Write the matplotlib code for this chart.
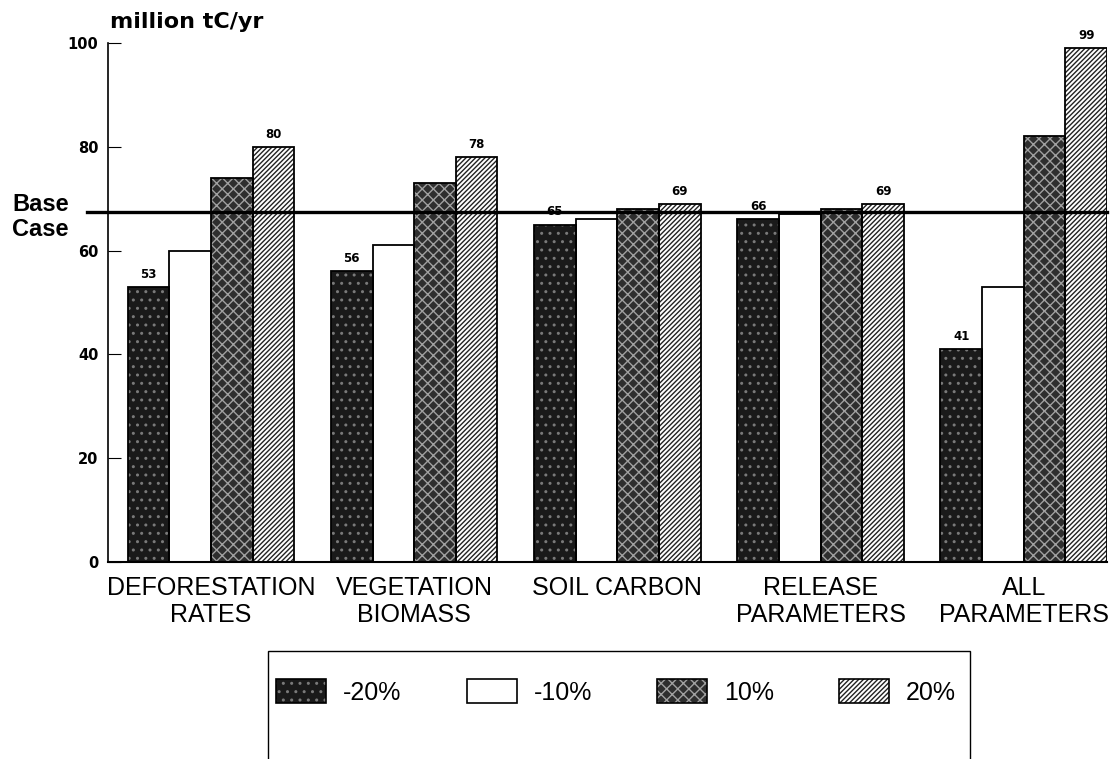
import matplotlib.pyplot as plt
from matplotlib.patches import Patch, Rectangle
import numpy as np

categories = ["DEFORESTATION\nRATES", "VEGETATION\nBIOMASS", "SOIL CARBON",
              "RELEASE\nPARAMETERS", "ALL\nPARAMETERS"]
series = ["-20%", "-10%", "10%", "20%"]
minus20 = [53, 56, 65, 66, 41]
minus10 = [60, 61, 66, 67, 53]
plus10 = [74, 73, 68, 68, 82]
plus20 = [80, 78, 69, 69, 99]
base_case = 67.4
yticks = [0, 20, 40, 60, 80, 100]

values = [minus20, minus10, plus10, plus20]
# fill, hatch, hatch colour for each series
styles = [("#1a1a1a", "..", "#7a7a7a"),
          ("white", "", "white"),
          ("#2e2e2e", "xxx", "#a0a0a0"),
          ("white", "///////", "#222222")]
show_label = [True, False, False, True]

fig = plt.figure(figsize=(11.11, 7.59), dpi=100)
ax = fig.add_axes([108 / 1111, 197 / 759, 999 / 1111, 519 / 759])

x = np.arange(len(categories))
w = 0.205
handles = []
for i, vals in enumerate(values):
    pos = x + (i - 1.5) * w
    face, hatch, hc = styles[i]
    ax.bar(pos, vals, w, color=face, hatch=hatch, edgecolor=hc, linewidth=0, zorder=2)
    ax.bar(pos, vals, w, fill=False, edgecolor="black", linewidth=1.3, zorder=3)
    if show_label[i]:
        for p, v in zip(pos, vals):
            ax.text(p, v + 1.2, str(v), ha="center", va="bottom",
                    fontsize=8.5, fontweight="bold", family="DejaVu Sans")
    handles.append((Patch(facecolor=face, hatch=hatch, edgecolor=hc, linewidth=0),
                    Patch(fill=False, edgecolor="black", linewidth=1.2)))

ax.plot([-0.61, 4.41], [base_case, base_case], color="black", lw=2.4,
        clip_on=False, zorder=4)

ax.set_xlim(-0.507, 4.41)
ax.set_ylim(0, 100)
ax.set_yticks(yticks)
ax.set_yticklabels([str(t) for t in yticks], fontsize=10.5, fontweight="bold",
                   family="DejaVu Sans")
ax.tick_params(axis="y", direction="in", length=9, width=0.8, pad=7)
ax.set_xticks(x)
ax.set_xticklabels(categories, fontsize=18, family="Liberation Sans",
                   linespacing=1.15)
ax.tick_params(axis="x", length=0, pad=10)
for s in ["top", "right"]:
    ax.spines[s].set_visible(False)
ax.spines["left"].set_linewidth(1.2)
ax.spines["bottom"].set_linewidth(1.5)

fig.text(110 / 1111, 1 - 22 / 759, "million tC/yr", fontsize=16,
         fontweight="bold", family="DejaVu Sans", va="center", ha="left")
fig.text(12 / 1111, 1 - 217 / 759, "Base\nCase", fontsize=17,
         fontweight="bold", family="Liberation Sans", va="center", ha="left",
         linespacing=1.1)

# legend frame runs off the bottom of the page
fig.patches.append(Rectangle((268 / 1111, -0.1), 702 / 1111, 0.1 + 108 / 759,
                             transform=fig.transFigure, fill=False,
                             edgecolor="black", linewidth=1.0))
fig.legend(handles, series, loc="center", bbox_to_anchor=(616 / 1111, 1 - 692 / 759),
           ncol=4, frameon=False, handlelength=2.0, handleheight=1.1,
           columnspacing=2.6, handletextpad=0.68,
           prop={"family": "Liberation Sans", "size": 18})

fig.savefig("out.png", dpi=100)
